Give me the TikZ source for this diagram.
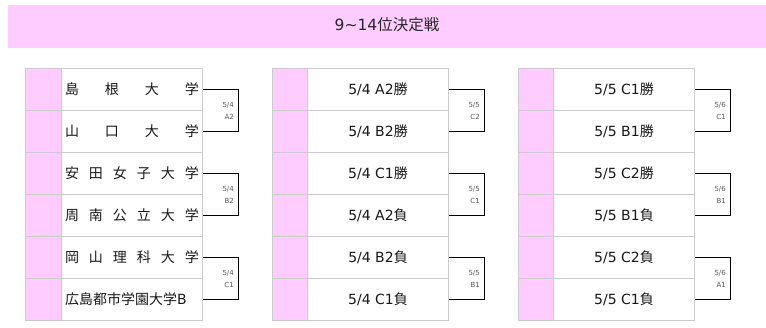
\documentclass[tikz,border=0pt]{standalone}
\usepackage{fontspec}
\setmainfont{DejaVu Sans}
\newfontfamily\jp{Noto Sans CJK JP}
\usetikzlibrary{calc}
\definecolor{pk}{RGB}{255,204,255}
\definecolor{gridc}{RGB}{204,204,204}
\definecolor{lblc}{RGB}{90,90,90}
\newcommand{\jst}[1]{\makebox[134pt][s]{\jp #1}}
\tikzset{
  pinkcell/.style={draw=gridc, line width=1pt, fill=pk, minimum height=42pt, inner sep=0pt, anchor=north west},
  cell/.style={draw=gridc, line width=1pt, fill=white, minimum height=42pt, minimum width=141pt, inner sep=0pt, anchor=north west, font=\fontsize{14}{16}\selectfont, text=black!90},
  conn/.style={draw=black, line width=0.9pt},
  lbl/.style={font=\fontsize{7}{12}\selectfont, text=lblc, align=right, anchor=east, inner sep=0pt},
  titletxt/.style={font=\fontsize{15.5}{18}\selectfont, text=black!85, inner sep=0pt}
}
\begin{document}
\begin{tikzpicture}[x=1pt,y=-1pt]
\useasboundingbox (0,0) rectangle (766,327);
\fill[pk] (8,5) rectangle (766,48);
\node[titletxt] (title) at (387,25) {9\textasciitilde 14{\jp 位決定戦}};

% column 1
\foreach \k in {0,...,5} {
  \node[pinkcell, minimum width=36pt] (p1r\k) at (25,{68+42*\k}) {};
}
\node[cell] (c1r0) at (61,68)  {\jst{島\hfill 根\hfill 大\hfill 学}};
\node[cell] (c1r1) at (61,110) {\jst{山\hfill 口\hfill 大\hfill 学}};
\node[cell] (c1r2) at (61,152) {\jst{安\hfill 田\hfill 女\hfill 子\hfill 大\hfill 学}};
\node[cell] (c1r3) at (61,194) {\jst{周\hfill 南\hfill 公\hfill 立\hfill 大\hfill 学}};
\node[cell] (c1r4) at (61,236) {\jst{岡\hfill 山\hfill 理\hfill 科\hfill 大\hfill 学}};
\node[cell] (c1r5) at (61,278) {\jst{広島都市学園大学{\rmfamily B}}};

% column 2
\foreach \k in {0,...,5} {
  \node[pinkcell, minimum width=35pt] (p2r\k) at (272,{68+42*\k}) {};
}
\node[cell] (c2r0) at (307,68)  {5/4 A2{\jp 勝}};
\node[cell] (c2r1) at (307,110) {5/4 B2{\jp 勝}};
\node[cell] (c2r2) at (307,152) {5/4 C1{\jp 勝}};
\node[cell] (c2r3) at (307,194) {5/4 A2{\jp 負}};
\node[cell] (c2r4) at (307,236) {5/4 B2{\jp 負}};
\node[cell] (c2r5) at (307,278) {5/4 C1{\jp 負}};

% column 3
\foreach \k in {0,...,5} {
  \node[pinkcell, minimum width=35pt] (p3r\k) at (518,{68+42*\k}) {};
}
\node[cell] (c3r0) at (553,68)  {5/5 C1{\jp 勝}};
\node[cell] (c3r1) at (553,110) {5/5 B1{\jp 勝}};
\node[cell] (c3r2) at (553,152) {5/5 C2{\jp 勝}};
\node[cell] (c3r3) at (553,194) {5/5 B1{\jp 負}};
\node[cell] (c3r4) at (553,236) {5/5 C2{\jp 負}};
\node[cell] (c3r5) at (553,278) {5/5 C1{\jp 負}};

% connectors
\foreach \c/\a/\b/\la/\lb in {
  1/0/1/5\slash 4/A2, 1/2/3/5\slash 4/B2, 1/4/5/5\slash 4/C1,
  2/0/1/5\slash 5/C2, 2/2/3/5\slash 5/C1, 2/4/5/5\slash 5/B1,
  3/0/1/5\slash 6/C1, 3/2/3/5\slash 6/B1, 3/4/5/5\slash 6/A1} {
  \draw[conn] (c\c r\a.east) -- ++(35,0) |- (c\c r\b.east);
  \node[lbl] (l\c r\a) at ($(c\c r\a.east)!0.5!(c\c r\b.east)+(31,0)$) {\la\\\lb};
}
\end{tikzpicture}
\end{document}
